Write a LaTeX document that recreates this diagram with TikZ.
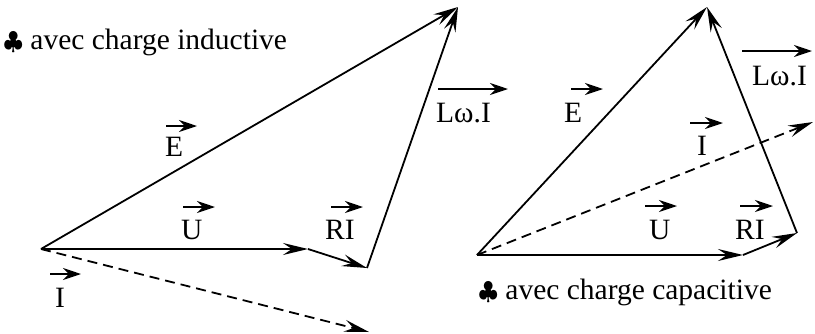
\documentclass[tikz,border=0pt]{standalone}
\usepackage{fontspec}
\setmainfont{Liberation Serif}
\usetikzlibrary{arrows.meta}
\begin{document}
\begin{tikzpicture}[x=1pt,y=-1pt,
  vec/.style={line width=1.8pt,-{Stealth[length=25pt,width=12pt,inset=9pt]}},
  cur/.style={vec,dash pattern=on 10pt off 6pt},
  lab/.style={inner sep=0pt,anchor=base west,font=\fontsize{29.5}{34}\selectfont},
  over/.style={line width=2.2pt,-{Stealth[length=18pt,width=12pt,inset=6pt]}}
]
\useasboundingbox (0,0) rectangle (815,333);
% ---- left diagram: inductive load
\coordinate (O1) at (41,249);
\coordinate (U1) at (308,249);
\coordinate (R1) at (367,268);
\coordinate (A1) at (458,7);
\coordinate (I1) at (369,332);
\draw[vec] (O1) -- (U1);
\draw[vec] (U1) -- (R1);
\draw[vec] (R1) -- (A1);
\draw[vec] (O1) -- (A1);
\draw[cur] (O1) -- (I1);
\node[lab] (t1) at (3.5,49) {$\clubsuit$ avec charge inductive};
\node[lab] (e1) at (165,156) {E};
\node[lab] (u1) at (181,239) {U};
\node[lab] (r1) at (325,239) {RI};
\node[lab] (i1) at (55,307) {I};
\node[lab] (l1) at (436,122) {Lω.I};
\draw[over] ([xshift=1pt,yshift=30pt]e1.base west) -- ([xshift=32pt,yshift=30pt]e1.base west);
\draw[over] ([xshift=2pt,yshift=32pt]u1.base west) -- ([xshift=34pt,yshift=32pt]u1.base west);
\draw[over] ([xshift=6pt,yshift=32pt]r1.base west) -- ([xshift=38pt,yshift=32pt]r1.base west);
\draw[over] ([xshift=-5pt,yshift=33pt]i1.base west) -- ([xshift=26pt,yshift=33pt]i1.base west);
\draw[over] ([xshift=2pt,yshift=33pt]l1.base west) -- ([xshift=72pt,yshift=33pt]l1.base west);
% ---- right diagram: capacitive load
\coordinate (O2) at (477,255);
\coordinate (U2) at (743,255);
\coordinate (R2) at (797,233);
\coordinate (A2) at (707,7);
\coordinate (I2) at (813,122);
\draw[vec] (O2) -- (U2);
\draw[vec] (U2) -- (R2);
\draw[vec] (R2) -- (A2);
\draw[vec] (O2) -- (A2);
\draw[cur] (O2) -- (I2);
\node[lab] (t2) at (478.5,299) {$\clubsuit$ avec charge capacitive};
\node[lab] (e2) at (564,122) {E};
\node[lab] (l2) at (752,85) {Lω.I};
\node[lab] (i2) at (697,155) {I};
\node[lab] (u2) at (649,239) {U};
\node[lab] (r2) at (735,239) {RI};
\draw[over] ([xshift=7pt,yshift=33pt]e2.base west) -- ([xshift=39pt,yshift=33pt]e2.base west);
\draw[over] ([xshift=-10pt,yshift=34pt]l2.base west) -- ([xshift=60pt,yshift=34pt]l2.base west);
\draw[over] ([xshift=-7pt,yshift=32pt]i2.base west) -- ([xshift=26pt,yshift=32pt]i2.base west);
\draw[over] ([xshift=-4pt,yshift=33pt]u2.base west) -- ([xshift=28pt,yshift=33pt]u2.base west);
\draw[over] ([xshift=5pt,yshift=33pt]r2.base west) -- ([xshift=38pt,yshift=33pt]r2.base west);
\end{tikzpicture}
\end{document}
